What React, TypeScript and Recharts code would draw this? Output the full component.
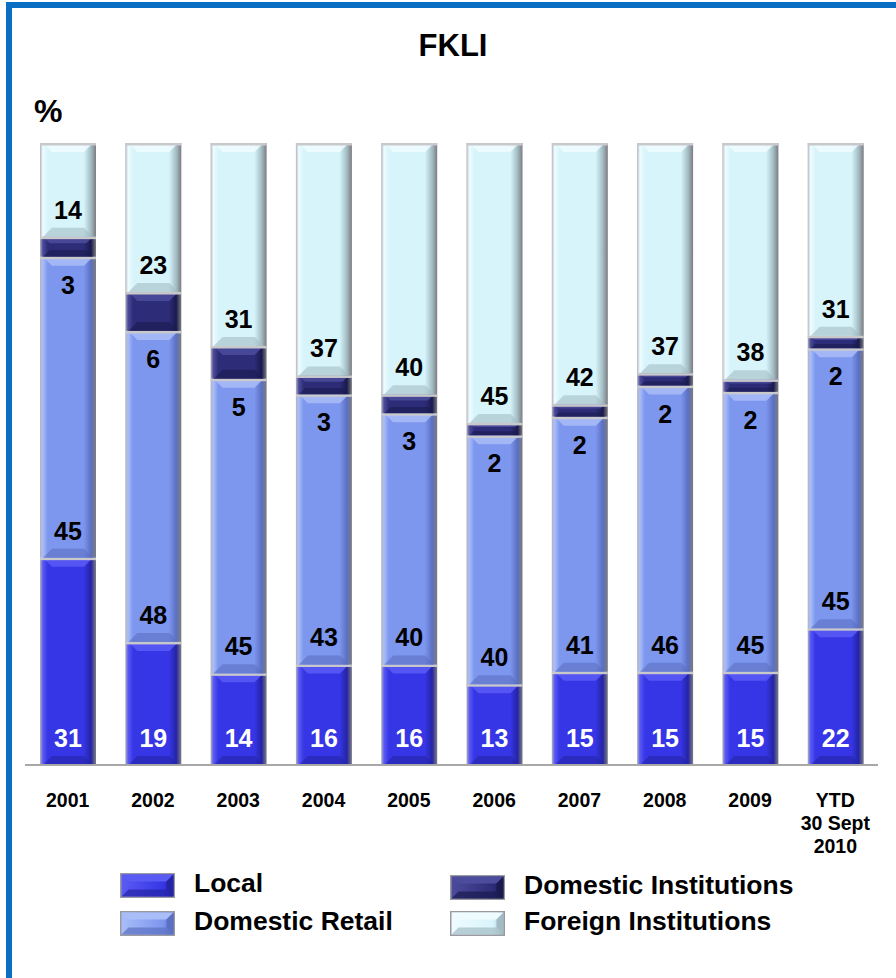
import React from "react";
import { BarChart, Bar, XAxis, YAxis, LabelList } from "recharts";

// FKLI participation by investor type, % share of volume
const years = ["2001", "2002", "2003", "2004", "2005", "2006", "2007", "2008", "2009", "YTD|30 Sept|2010"];
const local = [31, 19, 14, 16, 16, 13, 15, 15, 15, 22];
const domesticRetail = [45, 48, 45, 43, 40, 40, 41, 46, 45, 45];
const domesticInst = [3, 6, 5, 3, 3, 2, 2, 2, 2, 2];
const foreignInst = [14, 23, 31, 37, 40, 45, 42, 37, 38, 31];

const seriesNames = ["Local", "Domestic Retail", "Domestic Institutions", "Foreign Institutions"];
const seriesKeys = ["local", "domesticRetail", "domesticInst", "foreignInst"];
const seriesValues = [local, domesticRetail, domesticInst, foreignInst];

const palette = [
  { base: "#3636e6", light: "#5a5af4", dark: "#2424a6" },
  { base: "#7d96ee", light: "#a9bdf8", dark: "#5b70c2" },
  { base: "#2c2c78", light: "#4c4c9c", dark: "#1a1a4e" },
  { base: "#d8f4fb", light: "#eefcff", dark: "#a3bcc4" },
];

const data = years.map((year, i) => ({
  year,
  local: local[i],
  domesticRetail: domesticRetail[i],
  domesticInst: domesticInst[i],
  foreignInst: foreignInst[i],
}));

const FONT = "'Liberation Sans', Arial, sans-serif";

function Gradients() {
  return (
    <defs>
      {palette.map((c, i) => (
        <linearGradient key={i} id={`bev-${i}`} x1="0" y1="0" x2="1" y2="0">
          <stop offset="0%" stopColor="#b4b4bc" />
          <stop offset="5%" stopColor={c.light} />
          <stop offset="14%" stopColor={c.base} />
          <stop offset="78%" stopColor={c.base} />
          <stop offset="91%" stopColor={c.dark} />
          <stop offset="100%" stopColor="#7c7c80" />
        </linearGradient>
      ))}
    </defs>
  );
}

function makeShape(si: number) {
  return (props: any) => {
    const { x, y, width, height } = props;
    if (!height || height <= 0) return <g />;
    const c = palette[si];
    const b = Math.min(9, height / 3);
    return (
      <g>
        <rect x={x} y={y} width={width} height={height} fill={`url(#bev-${si})`} />
        <polygon
          points={`${x + 3},${y} ${x + width - 3},${y} ${x + width - 3 - b},${y + b} ${x + 3 + b},${y + b}`}
          fill={c.light}
          opacity={0.85}
        />
        <polygon
          points={`${x + 3},${y + height} ${x + width - 3},${y + height} ${x + width - 3 - b},${y + height - b} ${x + 3 + b},${y + height - b}`}
          fill={c.dark}
          opacity={0.6}
        />
        <rect x={x} y={y} width={width} height={2.5} fill="#c9c9cc" />
      </g>
    );
  };
}

// label offset relative to each segment
function makeLabel(si: number) {
  return (props: any) => {
    const { x, y, width, height, index } = props;
    const v = seriesValues[si][index];
    let ly = y + height - 27;
    if (si === 2) ly = y + height + 28;
    return (
      <text
        x={x + width / 2}
        y={ly}
        textAnchor="middle"
        dominantBaseline="central"
        fontFamily={FONT}
        fontWeight="bold"
        fontSize={25}
        fill={si === 0 ? "#ffffff" : "#000000"}
      >
        {v}
      </text>
    );
  };
}

function YearTick(props: any) {
  const { x, y, payload } = props;
  const lines = String(payload.value).split("|");
  return (
    <text x={x} y={y} textAnchor="middle" fontFamily={FONT} fontWeight="bold" fontSize={19.5} fill="#000">
      {lines.map((l, i) => (
        <tspan key={i} x={x} dy={i === 0 ? 42 : 23}>
          {l}
        </tspan>
      ))}
    </text>
  );
}

function LegendIcon({ si }: { si: number }) {
  const c = palette[si];
  const w = 55;
  const h = 25;
  const b = 7;
  return (
    <svg width={w} height={h} style={{ display: "block" }}>
      <defs>
        <linearGradient id={`leg-${si}`} x1="0" y1="0" x2="1" y2="0">
          <stop offset="0%" stopColor={c.light} />
          <stop offset="80%" stopColor={c.base} />
          <stop offset="100%" stopColor={c.dark} />
        </linearGradient>
      </defs>
      <rect x={0} y={0} width={w} height={h} fill="#9a9aa0" />
      <rect x={1.5} y={1.5} width={w - 3} height={h - 3} fill={`url(#leg-${si})`} />
      <polygon points={`1.5,1.5 ${w - 1.5},1.5 ${w - 1.5 - b},${1.5 + b} ${1.5 + b},${1.5 + b}`} fill={c.light} />
      <polygon points={`${w - 1.5},1.5 ${w - 1.5},${h - 1.5} ${w - 1.5 - b},${h - 1.5 - b} ${w - 1.5 - b},${1.5 + b}`} fill={c.dark} />
      <polygon points={`1.5,${h - 1.5} ${w - 1.5},${h - 1.5} ${w - 1.5 - b},${h - 1.5 - b} ${1.5 + b},${h - 1.5 - b}`} fill={c.dark} opacity={0.7} />
    </svg>
  );
}

const legendPos = [
  { left: 120, top: 873 },
  { left: 120, top: 911 },
  { left: 450, top: 875 },
  { left: 450, top: 911 },
];

export default function App() {
  return (
    <div style={{ position: "absolute", left: 0, top: 0, width: 896, height: 978, background: "#fff", overflow: "hidden" }}>
      {/* blue frame */}
      <div
        style={{
          position: "absolute",
          left: 6,
          top: 2,
          width: 920,
          height: 1000,
          borderLeft: "6px solid #0a6fc2",
          borderTop: "6px solid #0a6fc2",
        }}
      />
      <div
        style={{
          position: "absolute",
          left: 0,
          width: 906,
          top: 28,
          textAlign: "center",
          fontFamily: FONT,
          fontWeight: "bold",
          fontSize: 31,
        }}
      >
        FKLI
      </div>
      <div style={{ position: "absolute", left: 34, top: 93, fontFamily: FONT, fontWeight: "bold", fontSize: 32 }}>%</div>

      <div style={{ position: "absolute", left: 0, top: 0 }}>
        <BarChart
          width={896}
          height={870}
          data={data}
          stackOffset="expand"
          margin={{ top: 143, right: 18, left: 25, bottom: 0 }}
        >
          <Gradients />
          <XAxis
            dataKey="year"
            height={105}
            interval={0}
            tickLine={false}
            tickSize={0}
            tickMargin={0}
            axisLine={{ stroke: "#a8a8a8", strokeWidth: 2 }}
            tick={<YearTick />}
          />
          <YAxis hide domain={[0, 1]} />
          {seriesKeys.map((k, si) => (
            <Bar
              key={k}
              dataKey={k}
              name={seriesNames[si]}
              stackId="s"
              barSize={56}
              fill={palette[si].base}
              shape={makeShape(si)}
              isAnimationActive={false}
            >
              <LabelList dataKey={k} content={makeLabel(si)} />
            </Bar>
          ))}
        </BarChart>
      </div>

      {seriesNames.map((name, si) => (
        <div
          key={name}
          style={{
            position: "absolute",
            left: legendPos[si].left,
            top: legendPos[si].top,
            height: 25,
            display: "flex",
            alignItems: "center",
          }}
        >
          <LegendIcon si={si} />
          <span
            style={{
              marginLeft: 19,
              marginTop: -5,
              fontFamily: FONT,
              fontWeight: "bold",
              fontSize: 26.5,
              lineHeight: "25px",
            }}
          >
            {name}
          </span>
        </div>
      ))}
    </div>
  );
}
